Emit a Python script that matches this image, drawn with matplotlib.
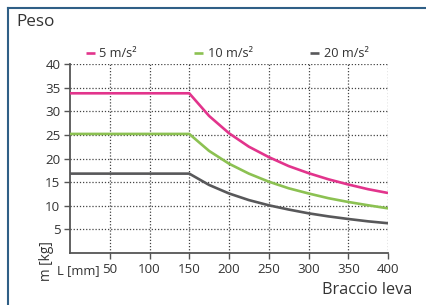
import matplotlib
matplotlib.use("Agg")
import matplotlib.pyplot as plt
from matplotlib.lines import Line2D

plt.rcParams['font.family'] = ['Open Sans', 'DejaVu Sans']

L = [0, 50, 100, 150, 175, 200, 225, 250, 275, 300, 325, 350, 375, 400]
m5 = [33.8, 33.8, 33.8, 33.8, 29.0, 25.35, 22.5, 20.3, 18.4, 16.9, 15.6, 14.5, 13.5, 12.7]
m10 = [25.2, 25.2, 25.2, 25.2, 21.6, 18.9, 16.8, 15.1, 13.7, 12.6, 11.6, 10.8, 10.1, 9.45]
m20 = [16.8, 16.8, 16.8, 16.8, 14.4, 12.6, 11.2, 10.1, 9.2, 8.4, 7.75, 7.2, 6.7, 6.3]
series_labels = ["5 m/s²", "10 m/s²", "20 m/s²"]
colors = ["#e2348c", "#8cc152", "#58585a"]
xticks = [50, 100, 150, 200, 250, 300, 350, 400]
yticks = [5, 10, 15, 20, 25, 30, 35, 40]

W, H = 426, 305
fig = plt.figure(figsize=(W / 100, H / 100), dpi=100)
fig.patch.set_facecolor("white")

# frame (top & left border)
fig.add_artist(Line2D([8 / W, 8 / W], [0, 1 - 8 / H], transform=fig.transFigure, color="#2f5f86", lw=1.5))
fig.add_artist(Line2D([8 / W, 1], [1 - 8 / H, 1 - 8 / H], transform=fig.transFigure, color="#2f5f86", lw=1.5))

ax = fig.add_axes([70 / W, 1 - 253 / H, (388 - 70) / W, (253 - 64) / H])
handles = []
for ys, lab, c in zip([m5, m10, m20], series_labels, colors):
    h, = ax.plot(L, ys, color=c, lw=1.9, label=lab, solid_capstyle="butt", zorder=3)
    handles.append(h)

ax.set_xlim(0, 400)
ax.set_ylim(0, 40)
ax.set_xticks(xticks)
ax.set_yticks(yticks)
ax.grid(True, color="#444444", linestyle=(0, (1.0, 1.5)), lw=0.9)
for s in ["top", "right"]:
    ax.spines[s].set_visible(False)
for s in ["left", "bottom"]:
    ax.spines[s].set_color("#555555")
    ax.spines[s].set_linewidth(1.3)
ax.tick_params(axis="both", colors="#555555", labelcolor="#333333", labelsize=9.6, length=4, width=1)
ax.tick_params(axis="y", pad=3)
ax.tick_params(axis="x", pad=3)

ax.legend(handles=handles, ncol=3, loc="lower left", bbox_to_anchor=(12 / 318, 1.0),
          frameon=False, handlelength=0.7, columnspacing=4.5, handletextpad=0.35,
          fontsize=9.2, labelcolor="#333333", borderaxespad=0.1, borderpad=0.2)

fig.text(16 / W, 1 - 22 / H, "Peso", fontsize=12.3, color="#333333", va="center", ha="left")
fig.text(412 / W, 1 - 290 / H, "Braccio leva", fontsize=11.7, color="#333333", va="center", ha="right")
fig.text(100 / W, 1 - 271 / H, "L [mm]", fontsize=9.4, color="#333333", va="center", ha="right")
fig.text(47 / W, 1 - 261 / H, "m [kg]", fontsize=9.8, color="#333333", va="center", ha="center", rotation=90)

fig.savefig("out.png", dpi=100, facecolor="white")
